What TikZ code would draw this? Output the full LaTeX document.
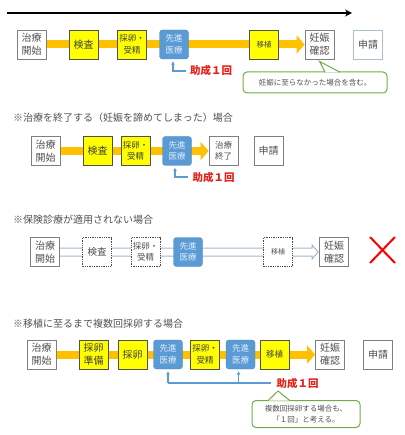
\documentclass[tikz,border=0pt]{standalone}
\usepackage{fontspec}
\setmainfont{Noto Sans CJK JP}
\usetikzlibrary{arrows.meta,backgrounds}

\definecolor{flowor}{HTML}{FFC000}
\definecolor{stepyellow}{HTML}{FFFF00}
\definecolor{advblue}{HTML}{5B9BD5}
\definecolor{advedge}{HTML}{4A86BE}
\definecolor{advtext}{HTML}{E3EEF8}
\definecolor{boxgray}{HTML}{7F7F7F}
\definecolor{txtgray}{HTML}{505050}
\definecolor{applyedge}{HTML}{A9BFCC}
\definecolor{subred}{HTML}{E3231B}
\definecolor{notegreen}{HTML}{70AD47}
\definecolor{hollowblue}{HTML}{A3B9CC}

\tikzset{
  stepbase/.style={minimum width=29pt,minimum height=29pt,inner sep=0pt,align=center,
    font=\fontsize{10}{13}\selectfont,text=txtgray},
  plainbox/.style={stepbase,draw=boxgray,fill=white,line width=0.8pt},
  applybox/.style={plainbox,draw=applyedge},
  yellowbox/.style={stepbase,draw=txtgray,fill=stepyellow,line width=0.6pt,text=black!75},
  bluebox/.style={stepbase,draw=advedge,fill=advblue,rounded corners=3pt,text=advtext,
    font=\fontsize{8.5}{11.5}\selectfont},
  dashbox/.style={stepbase,draw=black!70,fill=white,line width=0.7pt,dash pattern=on 1.3pt off 1pt},
  smalltext/.style={font=\fontsize{8.5}{11.5}\selectfont},
  tinytext/.style={font=\fontsize{7.5}{10}\selectfont},
  titletext/.style={anchor=west,inner sep=0pt,text=txtgray,font=\fontsize{10}{12}\selectfont},
  subtext/.style={inner sep=0pt,text=subred,font=\fontsize{10.5}{12}\selectfont\bfseries},
  flow/.style={line width=8pt,draw=flowor,-{Triangle[length=8pt,width=18pt]}},
  hollow/.style={draw=hollowblue,line width=1pt,fill=white},
  subline/.style={draw=advblue,line width=1.2pt},
  subarrow/.style={subline,-{Latex[length=3.5pt,width=4pt]}},
  timeline/.style={line width=1.2pt,-{Stealth[length=7pt,width=7pt]}},
  notebox/.style={draw=notegreen,line width=1pt,rounded corners=4pt,fill=white,inner sep=0pt,
    align=center,text=txtgray,font=\fontsize{7.5}{10.5}\selectfont},
  notetail/.style={draw=notegreen,line width=1pt,fill=white},
}

\begin{document}
\begin{tikzpicture}[x=1pt,y=-1pt]
\useasboundingbox (0,0) rectangle (404,435);

% time axis
\coordinate (tstart) at (7,13);
\coordinate (tend) at (352,13);
\draw[timeline] (tstart) -- (tend);

% row 1: usual course
\node[plainbox] (r1a) at (31.5,44.5) {治療\\開始};
\node[yellowbox] (r1b) at (83.5,44.5) {検査};
\node[yellowbox,smalltext] (r1c) at (132,44.5) {採卵・\\受精};
\node[bluebox] (r1d) at (174,44.5) {先進\\医療};
\node[yellowbox,tinytext] (r1e) at (264,44.5) {移植};
\node[plainbox] (r1f) at (319.5,44.5) {妊娠\\確認};
\node[applybox] (r1g) at (368,44.5) {申請};
\begin{scope}[on background layer]
\draw[flow] (r1a.east) -- (r1f.west);
\end{scope}
\node[subtext] (r1sub) at (211,71) {助成１回};
\draw[subarrow] ([xshift=-4]r1sub.west) -| ([xshift=-1,yshift=-2]r1d.south);
\node[notebox,minimum width=144,minimum height=21] (r1note) at (315,82.5) {妊娠に至らなかった場合を含む。};
\coordinate (r1tip) at ([yshift=-2]r1f.south);
\draw[notetail] ([xshift=10,yshift=-0.7]r1note.north) -- (r1tip) -- ([xshift=25,yshift=-0.7]r1note.north);

% row 2: treatment ended
\node[titletext] (t2) at (13,118) {※治療を終了する（妊娠を諦めてしまった）場合};
\node[plainbox] (r2a) at (45.5,151) {治療\\開始};
\node[yellowbox] (r2b) at (97.5,151) {検査};
\node[yellowbox,smalltext] (r2c) at (135.5,151) {採卵・\\受精};
\node[bluebox] (r2d) at (177,151) {先進\\医療};
\node[plainbox,smalltext] (r2e) at (223.5,151) {治療\\終了};
\node[plainbox] (r2f) at (268.5,151) {申請};
\begin{scope}[on background layer]
\draw[flow] (r2a.east) -- (r2e.west);
\end{scope}
\node[subtext] (r2sub) at (213.5,177) {助成１回};
\draw[subarrow] ([xshift=-4]r2sub.west) -| ([xshift=-2,yshift=-2]r2d.south);

% row 3: not covered by insurance
\node[titletext] (t3) at (13,220) {※保険診療が適用されない場合};
\node[plainbox] (r3a) at (45,252) {治療\\開始};
\node[dashbox,font=\fontsize{9.5}{12}\selectfont] (r3b) at (97,252) {検査};
\node[dashbox,smalltext] (r3c) at (145.5,252) {採卵・\\受精};
\node[bluebox] (r3d) at (188,252) {先進\\医療};
\node[dashbox,font=\fontsize{7}{9}\selectfont] (r3e) at (278,252) {移植};
\node[plainbox] (r3f) at (334,252) {妊娠\\確認};
\begin{scope}[on background layer]
\draw[hollow] ([yshift=4]r3a.east) -- ([xshift=-7,yshift=4]r3f.west) -- ([xshift=-7,yshift=7]r3f.west)
  -- ([xshift=-1]r3f.west) -- ([xshift=-7,yshift=-7]r3f.west) -- ([xshift=-7,yshift=-4]r3f.west)
  -- ([yshift=-4]r3a.east);
\end{scope}
\draw[red,line width=2pt] (370,237) -- (395,263) (370,263) -- (395,237);

% row 4: several egg retrievals
\node[titletext] (t4) at (13,324) {※移植に至るまで複数回採卵する場合};
\node[plainbox] (r4a) at (41.5,354.5) {治療\\開始};
\node[yellowbox] (r4b) at (93.5,354.5) {採卵\\準備};
\node[yellowbox] (r4c) at (132.5,354.5) {採卵};
\node[bluebox] (r4d) at (168,354.5) {先進\\医療};
\node[yellowbox,smalltext] (r4e) at (205,354.5) {採卵・\\受精};
\node[bluebox] (r4f) at (240.5,354.5) {先進\\医療};
\node[yellowbox,smalltext] (r4g) at (274.5,354.5) {移植};
\node[plainbox] (r4h) at (330,354.5) {妊娠\\確認};
\node[plainbox] (r4i) at (378,354.5) {申請};
\begin{scope}[on background layer]
\draw[flow] (r4a.east) -- (r4h.west);
\end{scope}
\node[subtext] (r4sub) at (297.5,383) {助成１回};
\coordinate (r4bar) at ([xshift=-5]r4sub.west);
\draw[subline] (r4bar) -- (r4bar -| r4d.south);
\draw[subarrow] (r4bar -| r4d.south) -- ([yshift=-2]r4d.south);
\draw[subarrow] ([xshift=-2]r4bar -| r4f.south) -- ([xshift=-2,yshift=-2]r4f.south);
\node[notebox,minimum width=108,minimum height=27] (r4note) at (306,414) {複数回採卵する場合も、\\「１回」と考える。};
\coordinate (r4tip) at (278,391);
\draw[notetail] ([xshift=-38,yshift=-0.7]r4note.north) -- (r4tip) -- ([xshift=-16,yshift=-0.7]r4note.north);
\end{tikzpicture}
\end{document}
